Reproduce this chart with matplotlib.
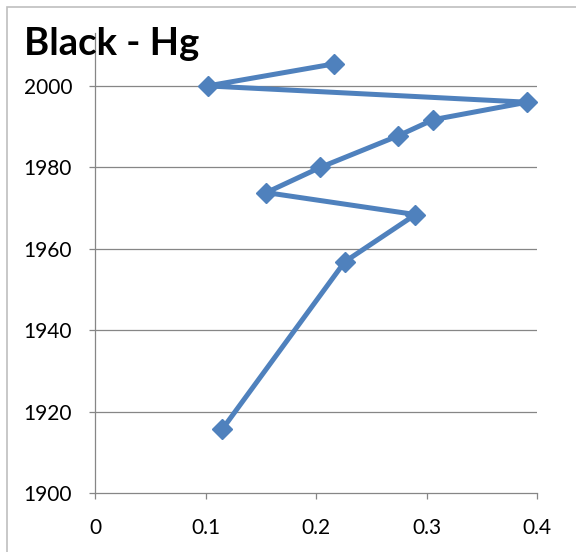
import matplotlib.pyplot as plt
from matplotlib.patches import Rectangle

# Hg values (x) by sediment year (y), in plotting order
hg = [0.216, 0.102, 0.391, 0.306, 0.274, 0.204, 0.155, 0.290, 0.226, 0.115]
years = [2005.4, 2000.0, 1996.0, 1991.7, 1987.7, 1980.0, 1973.8, 1968.4, 1956.8, 1915.6]

x_ticks = [0, 0.1, 0.2, 0.3, 0.4]
x_labels = ['0', '0.1', '0.2', '0.3', '0.4']
y_ticks = [1900, 1920, 1940, 1960, 1980, 2000]

title = 'Black - Hg'
line_color = '#4F81BD'
grid_color = '#868686'

plt.rcParams['font.family'] = ['Lato', 'DejaVu Sans']

fig = plt.figure(figsize=(5.76, 5.52), dpi=100)
W, H = 576, 552
ax = fig.add_axes([95 / W, (H - 493) / H, (537 - 95) / W, (493 - 33) / H])

# chart area border (only left and top fall inside the picture)
fig.patches.append(Rectangle((7 / W, -0.1), 1.2, 1.1 - 7 / H,
                             transform=fig.transFigure, fill=False,
                             edgecolor='#bfbfbf', linewidth=1.2, zorder=0))

ax.plot(hg, years, color=line_color, linewidth=3.6, marker='D',
        markersize=10, markerfacecolor=line_color, markeredgecolor=line_color,
        zorder=3, clip_on=False)

ax.set_xlim(0, 0.4)
ax.set_ylim(1900, 2013)
ax.set_xticks(x_ticks)
ax.set_xticklabels(x_labels)
ax.set_yticks(y_ticks)

for y in y_ticks[1:]:
    ax.axhline(y, color=grid_color, linewidth=0.9, zorder=1)

for side in ['top', 'right']:
    ax.spines[side].set_visible(False)
for side in ['left', 'bottom']:
    ax.spines[side].set_color(grid_color)
    ax.spines[side].set_linewidth(0.9)

ax.tick_params(axis='both', direction='out', length=4.5, width=0.9,
               color=grid_color, labelsize=15, labelcolor='black')
ax.tick_params(axis='y', pad=12)
ax.tick_params(axis='x', pad=13.5)
ax.spines['bottom'].set_zorder(2)

fig.text(24 / W, (H - 55) / H, title, fontsize=27.5, fontweight='bold',
         ha='left', va='baseline', color='black', zorder=0)

fig.savefig('out.png', dpi=100)
